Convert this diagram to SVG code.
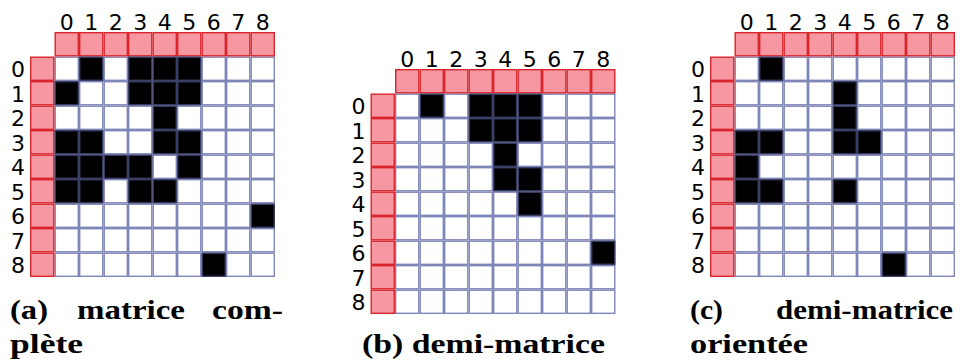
<svg xmlns="http://www.w3.org/2000/svg" xmlns:xlink="http://www.w3.org/1999/xlink" width="960" height="362" viewBox="0 0 960 362">
<style>
.w{fill:#ffffff;stroke:#7f86b8;stroke-width:1.4}
.h{fill:#f797a2;stroke:#d8262c;stroke-width:1.4}
.b{fill:#000000;stroke:#3a3f66;stroke-width:1.4}
.n{font-family:"DejaVu Sans",sans-serif;font-size:22px;fill:#000;text-anchor:middle}
.cap{font-family:"Liberation Serif","DejaVu Serif",serif;font-weight:bold;font-size:28px;fill:#000}
</style>
<defs>
<rect id="cw" x="0.7" y="0.7" width="23.1" height="23.1" class="w"/>
<rect id="ch" x="0.7" y="0.7" width="23.1" height="23.1" class="h"/>
<rect id="cb" x="0.7" y="0.7" width="23.1" height="23.1" class="b"/>
<g id="wrow">
<use xlink:href="#cw" x="0"/><use xlink:href="#cw" x="24.5"/><use xlink:href="#cw" x="49"/><use xlink:href="#cw" x="73.5"/><use xlink:href="#cw" x="98"/><use xlink:href="#cw" x="122.5"/><use xlink:href="#cw" x="147"/><use xlink:href="#cw" x="171.5"/><use xlink:href="#cw" x="196"/>
</g>
<g id="wgrid">
<use xlink:href="#wrow" y="0"/><use xlink:href="#wrow" y="24.5"/><use xlink:href="#wrow" y="49"/><use xlink:href="#wrow" y="73.5"/><use xlink:href="#wrow" y="98"/><use xlink:href="#wrow" y="122.5"/><use xlink:href="#wrow" y="147"/><use xlink:href="#wrow" y="171.5"/><use xlink:href="#wrow" y="196"/>
</g>
<g id="hrow">
<use xlink:href="#ch" x="0"/><use xlink:href="#ch" x="24.5"/><use xlink:href="#ch" x="49"/><use xlink:href="#ch" x="73.5"/><use xlink:href="#ch" x="98"/><use xlink:href="#ch" x="122.5"/><use xlink:href="#ch" x="147"/><use xlink:href="#ch" x="171.5"/><use xlink:href="#ch" x="196"/>
</g>
<g id="hcol">
<use xlink:href="#ch" y="0"/><use xlink:href="#ch" y="24.5"/><use xlink:href="#ch" y="49"/><use xlink:href="#ch" y="73.5"/><use xlink:href="#ch" y="98"/><use xlink:href="#ch" y="122.5"/><use xlink:href="#ch" y="147"/><use xlink:href="#ch" y="171.5"/><use xlink:href="#ch" y="196"/>
</g>
<g id="labels">
<text class="n" x="12.25" y="-26.5">0</text><text class="n" x="36.75" y="-26.5">1</text><text class="n" x="61.25" y="-26.5">2</text><text class="n" x="85.75" y="-26.5">3</text><text class="n" x="110.25" y="-26.5">4</text><text class="n" x="134.75" y="-26.5">5</text><text class="n" x="159.25" y="-26.5">6</text><text class="n" x="183.75" y="-26.5">7</text><text class="n" x="208.25" y="-26.5">8</text>
<text class="n" x="-36.5" y="20.5">0</text><text class="n" x="-36.5" y="45">1</text><text class="n" x="-36.5" y="69.5">2</text><text class="n" x="-36.5" y="94">3</text><text class="n" x="-36.5" y="118.5">4</text><text class="n" x="-36.5" y="143">5</text><text class="n" x="-36.5" y="167.5">6</text><text class="n" x="-36.5" y="192">7</text><text class="n" x="-36.5" y="216.5">8</text>
</g>
<g id="frame">
<use xlink:href="#wgrid"/>
<use xlink:href="#hrow" y="-24.5"/>
<use xlink:href="#hcol" x="-24.5"/>
<use xlink:href="#labels"/>
</g>
</defs>

<g id="matrix-a" transform="translate(54.5,56.5)">
<use xlink:href="#frame"/>
<use xlink:href="#cb" x="24.5" y="0"/><use xlink:href="#cb" x="73.5" y="0"/><use xlink:href="#cb" x="98" y="0"/><use xlink:href="#cb" x="122.5" y="0"/>
<use xlink:href="#cb" x="0" y="24.5"/><use xlink:href="#cb" x="73.5" y="24.5"/><use xlink:href="#cb" x="98" y="24.5"/><use xlink:href="#cb" x="122.5" y="24.5"/>
<use xlink:href="#cb" x="98" y="49"/>
<use xlink:href="#cb" x="0" y="73.5"/><use xlink:href="#cb" x="24.5" y="73.5"/><use xlink:href="#cb" x="98" y="73.5"/><use xlink:href="#cb" x="122.5" y="73.5"/>
<use xlink:href="#cb" x="0" y="98"/><use xlink:href="#cb" x="24.5" y="98"/><use xlink:href="#cb" x="49" y="98"/><use xlink:href="#cb" x="73.5" y="98"/><use xlink:href="#cb" x="122.5" y="98"/>
<use xlink:href="#cb" x="0" y="122.5"/><use xlink:href="#cb" x="24.5" y="122.5"/><use xlink:href="#cb" x="73.5" y="122.5"/><use xlink:href="#cb" x="98" y="122.5"/>
<use xlink:href="#cb" x="196" y="147"/>
<use xlink:href="#cb" x="147" y="196"/>
</g>

<g id="matrix-b" transform="translate(395,93.5)">
<use xlink:href="#frame"/>
<use xlink:href="#cb" x="24.5" y="0"/><use xlink:href="#cb" x="73.5" y="0"/><use xlink:href="#cb" x="98" y="0"/><use xlink:href="#cb" x="122.5" y="0"/>
<use xlink:href="#cb" x="73.5" y="24.5"/><use xlink:href="#cb" x="98" y="24.5"/><use xlink:href="#cb" x="122.5" y="24.5"/>
<use xlink:href="#cb" x="98" y="49"/>
<use xlink:href="#cb" x="98" y="73.5"/><use xlink:href="#cb" x="122.5" y="73.5"/>
<use xlink:href="#cb" x="122.5" y="98"/>
<use xlink:href="#cb" x="196" y="147"/>
</g>

<g id="matrix-c" transform="translate(734.5,56.5)">
<use xlink:href="#frame"/>
<use xlink:href="#cb" x="24.5" y="0"/>
<use xlink:href="#cb" x="98" y="24.5"/>
<use xlink:href="#cb" x="98" y="49"/>
<use xlink:href="#cb" x="0" y="73.5"/><use xlink:href="#cb" x="24.5" y="73.5"/><use xlink:href="#cb" x="98" y="73.5"/><use xlink:href="#cb" x="122.5" y="73.5"/>
<use xlink:href="#cb" x="0" y="98"/>
<use xlink:href="#cb" x="0" y="122.5"/><use xlink:href="#cb" x="24.5" y="122.5"/><use xlink:href="#cb" x="98" y="122.5"/>
<use xlink:href="#cb" x="147" y="196"/>
</g>

<g id="captions">
<text class="cap" x="10" y="319" textLength="38" lengthAdjust="spacingAndGlyphs">(a)</text>
<text class="cap" x="77" y="319" textLength="108" lengthAdjust="spacingAndGlyphs">matrice</text>
<text class="cap" x="212" y="319" textLength="71" lengthAdjust="spacingAndGlyphs">com-</text>
<text class="cap" x="10" y="353" textLength="73" lengthAdjust="spacingAndGlyphs">plète</text>
<text class="cap" x="362" y="353" textLength="243" lengthAdjust="spacingAndGlyphs">(b) demi-matrice</text>
<text class="cap" x="690" y="319" textLength="33" lengthAdjust="spacingAndGlyphs">(c)</text>
<text class="cap" x="776" y="319" textLength="177" lengthAdjust="spacingAndGlyphs">demi-matrice</text>
<text class="cap" x="690" y="353" textLength="118" lengthAdjust="spacingAndGlyphs">orientée</text>
</g>
</svg>
